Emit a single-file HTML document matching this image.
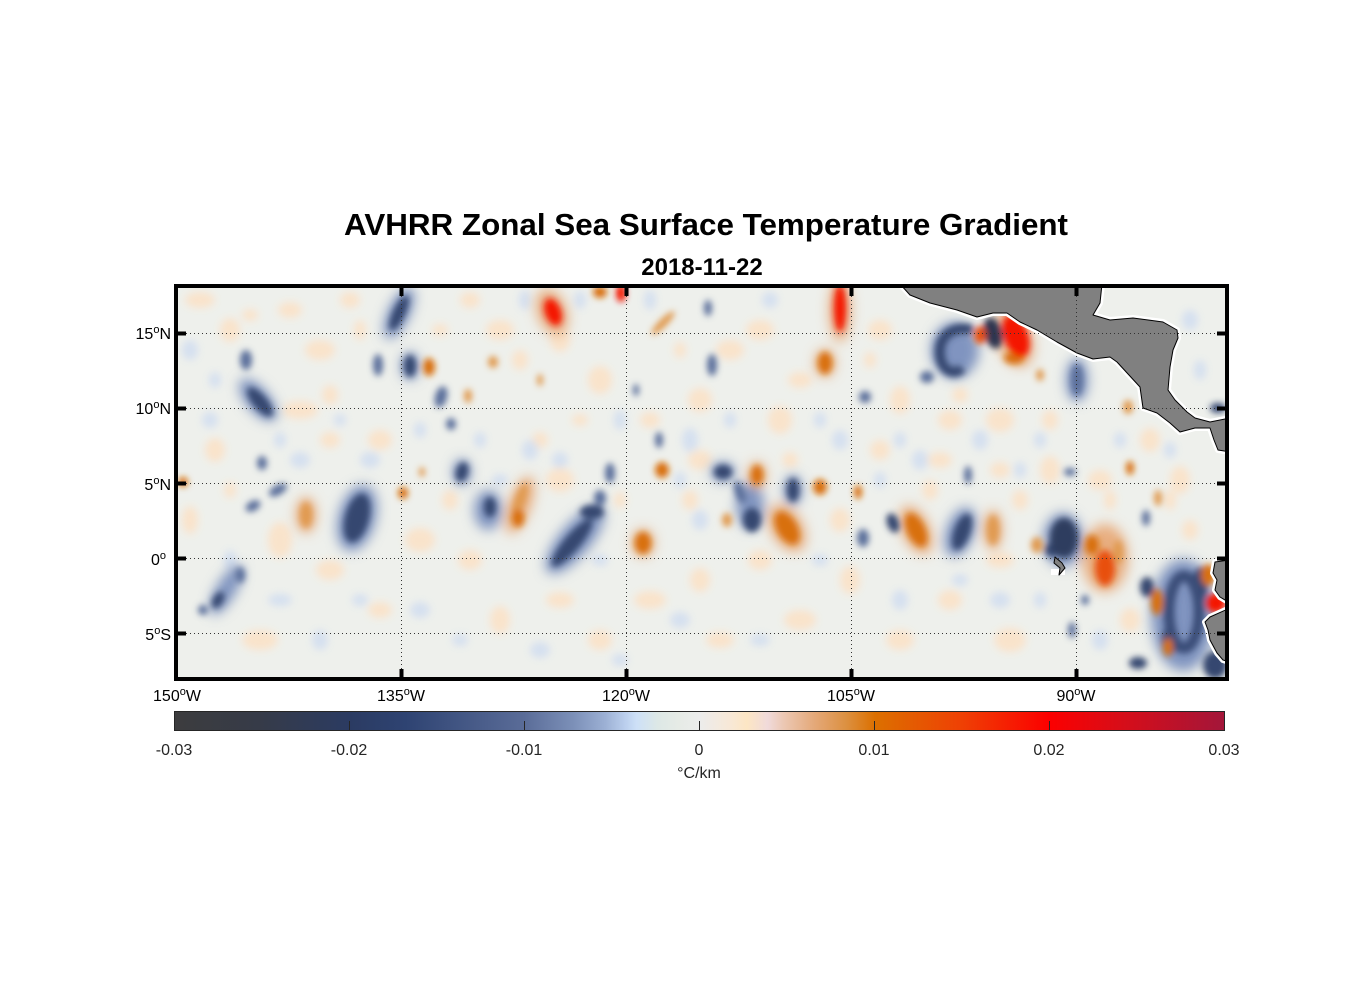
<!DOCTYPE html>
<html><head><meta charset="utf-8"><style>
html,body{margin:0;padding:0;background:#fff;}
svg{display:block;font-family:"Liberation Sans",Arial,sans-serif;}
</style></head><body>
<svg width="1356" height="1000" viewBox="0 0 1356 1000" xmlns="http://www.w3.org/2000/svg">
<defs>
<clipPath id="c"><rect x="178" y="288" width="1047" height="389"/></clipPath>
<filter id="fs" x="-50%" y="-50%" width="200%" height="200%"><feGaussianBlur stdDeviation="3.2"/></filter>
<filter id="fm" x="-50%" y="-50%" width="200%" height="200%"><feGaussianBlur stdDeviation="4"/></filter>
<filter id="fl" x="-50%" y="-50%" width="200%" height="200%"><feGaussianBlur stdDeviation="6"/></filter>
<linearGradient id="cb" x1="0" x2="1" y1="0" y2="0">
<stop offset="0" stop-color="#3c3c3e"/>
<stop offset="0.08" stop-color="#363b48"/>
<stop offset="0.167" stop-color="#2b3b62"/>
<stop offset="0.22" stop-color="#2e4372"/>
<stop offset="0.333" stop-color="#5a6c98"/>
<stop offset="0.38" stop-color="#7c90b8"/>
<stop offset="0.41" stop-color="#9cb0d4"/>
<stop offset="0.43" stop-color="#bcd0ee"/>
<stop offset="0.44" stop-color="#cde0f7"/>
<stop offset="0.46" stop-color="#dde8e6"/>
<stop offset="0.48" stop-color="#e6ebe6"/>
<stop offset="0.5" stop-color="#ececec"/>
<stop offset="0.53" stop-color="#f8e8d6"/>
<stop offset="0.545" stop-color="#fde6c4"/>
<stop offset="0.565" stop-color="#f0dada"/>
<stop offset="0.58" stop-color="#ecc8b4"/>
<stop offset="0.61" stop-color="#e4a878"/>
<stop offset="0.64" stop-color="#dc9040"/>
<stop offset="0.667" stop-color="#dc7000"/>
<stop offset="0.75" stop-color="#ef4004"/>
<stop offset="0.833" stop-color="#fc0000"/>
<stop offset="0.9" stop-color="#d80d18"/>
<stop offset="1" stop-color="#a3163a"/>
</linearGradient>
</defs>

<text x="706" y="235" font-size="31" font-weight="bold" text-anchor="middle" textLength="724" lengthAdjust="spacingAndGlyphs" fill="#000">AVHRR Zonal Sea Surface Temperature Gradient</text>
<text x="702" y="275" font-size="24" font-weight="bold" text-anchor="middle" fill="#000">2018-11-22</text>

<g clip-path="url(#c)">
<rect x="178" y="288" width="1047" height="389" fill="#eef0ec"/>

<g filter="url(#fm)" opacity="0.9">
<g fill="#fbe2c8">
<ellipse cx="200" cy="300" rx="15" ry="8"/><ellipse cx="230" cy="330" rx="10" ry="12"/><ellipse cx="290" cy="310" rx="12" ry="8"/><ellipse cx="320" cy="350" rx="15" ry="10"/><ellipse cx="350" cy="300" rx="10" ry="8"/><ellipse cx="300" cy="410" rx="18" ry="9"/><ellipse cx="330" cy="440" rx="10" ry="8"/><ellipse cx="215" cy="450" rx="10" ry="12"/><ellipse cx="190" cy="520" rx="8" ry="14"/><ellipse cx="280" cy="540" rx="12" ry="18"/><ellipse cx="330" cy="570" rx="14" ry="10"/><ellipse cx="260" cy="640" rx="18" ry="10"/><ellipse cx="380" cy="610" rx="12" ry="8"/><ellipse cx="420" cy="540" rx="15" ry="12"/><ellipse cx="470" cy="560" rx="12" ry="10"/><ellipse cx="500" cy="620" rx="10" ry="14"/><ellipse cx="560" cy="600" rx="14" ry="8"/><ellipse cx="600" cy="640" rx="12" ry="10"/><ellipse cx="650" cy="600" rx="16" ry="9"/><ellipse cx="700" cy="580" rx="10" ry="12"/><ellipse cx="720" cy="640" rx="14" ry="8"/><ellipse cx="760" cy="560" rx="12" ry="10"/><ellipse cx="800" cy="620" rx="16" ry="10"/><ellipse cx="850" cy="580" rx="10" ry="14"/><ellipse cx="900" cy="640" rx="14" ry="10"/><ellipse cx="950" cy="600" rx="12" ry="10"/><ellipse cx="1000" cy="560" rx="14" ry="8"/><ellipse cx="1010" cy="640" rx="16" ry="12"/><ellipse cx="1050" cy="470" rx="10" ry="14"/><ellipse cx="1100" cy="480" rx="12" ry="10"/><ellipse cx="1000" cy="420" rx="14" ry="12"/><ellipse cx="950" cy="420" rx="12" ry="10"/><ellipse cx="900" cy="400" rx="10" ry="14"/><ellipse cx="880" cy="330" rx="12" ry="10"/><ellipse cx="760" cy="330" rx="14" ry="10"/><ellipse cx="700" cy="400" rx="12" ry="12"/><ellipse cx="650" cy="420" rx="10" ry="8"/><ellipse cx="600" cy="380" rx="12" ry="14"/><ellipse cx="560" cy="340" rx="10" ry="12"/><ellipse cx="500" cy="330" rx="14" ry="10"/><ellipse cx="470" cy="300" rx="10" ry="8"/><ellipse cx="380" cy="440" rx="12" ry="10"/><ellipse cx="1150" cy="440" rx="10" ry="12"/><ellipse cx="1180" cy="480" rx="10" ry="14"/><ellipse cx="1190" cy="530" rx="8" ry="10"/><ellipse cx="1000" cy="470" rx="10" ry="8"/><ellipse cx="940" cy="460" rx="12" ry="8"/><ellipse cx="880" cy="450" rx="10" ry="10"/><ellipse cx="780" cy="420" rx="12" ry="14"/><ellipse cx="730" cy="350" rx="14" ry="10"/><ellipse cx="800" cy="380" rx="12" ry="8"/><ellipse cx="560" cy="480" rx="14" ry="12"/><ellipse cx="700" cy="460" rx="12" ry="10"/><ellipse cx="840" cy="520" rx="10" ry="12"/><ellipse cx="1130" cy="620" rx="10" ry="12"/>
<ellipse cx="250" cy="315" rx="8" ry="6"/><ellipse cx="330" cy="395" rx="8" ry="10"/><ellipse cx="360" cy="330" rx="6" ry="10"/><ellipse cx="440" cy="330" rx="8" ry="6"/><ellipse cx="520" cy="360" rx="8" ry="10"/><ellipse cx="580" cy="420" rx="8" ry="6"/><ellipse cx="680" cy="350" rx="6" ry="8"/><ellipse cx="690" cy="500" rx="8" ry="10"/><ellipse cx="620" cy="500" rx="6" ry="8"/><ellipse cx="450" cy="500" rx="8" ry="10"/><ellipse cx="230" cy="490" rx="6" ry="8"/><ellipse cx="870" cy="360" rx="6" ry="8"/><ellipse cx="930" cy="490" rx="8" ry="10"/><ellipse cx="1020" cy="500" rx="8" ry="10"/><ellipse cx="1110" cy="500" rx="6" ry="10"/><ellipse cx="1170" cy="500" rx="6" ry="10"/><ellipse cx="960" cy="395" rx="8" ry="8"/><ellipse cx="1050" cy="420" rx="8" ry="10"/><ellipse cx="790" cy="460" rx="8" ry="8"/><ellipse cx="540" cy="440" rx="8" ry="8"/>
</g>
<g fill="#d2def0">
<ellipse cx="190" cy="350" rx="8" ry="10"/><ellipse cx="210" cy="420" rx="8" ry="8"/><ellipse cx="300" cy="460" rx="10" ry="8"/><ellipse cx="370" cy="460" rx="10" ry="8"/><ellipse cx="420" cy="610" rx="10" ry="8"/><ellipse cx="280" cy="600" rx="12" ry="6"/><ellipse cx="530" cy="450" rx="8" ry="10"/><ellipse cx="560" cy="460" rx="8" ry="8"/><ellipse cx="620" cy="420" rx="6" ry="10"/><ellipse cx="690" cy="440" rx="8" ry="12"/><ellipse cx="700" cy="520" rx="8" ry="10"/><ellipse cx="680" cy="620" rx="10" ry="8"/><ellipse cx="760" cy="640" rx="10" ry="6"/><ellipse cx="840" cy="440" rx="8" ry="10"/><ellipse cx="880" cy="480" rx="6" ry="8"/><ellipse cx="920" cy="460" rx="8" ry="10"/><ellipse cx="980" cy="440" rx="8" ry="10"/><ellipse cx="1020" cy="470" rx="6" ry="8"/><ellipse cx="1100" cy="640" rx="8" ry="10"/><ellipse cx="1000" cy="600" rx="10" ry="8"/><ellipse cx="900" cy="600" rx="8" ry="10"/><ellipse cx="540" cy="650" rx="10" ry="8"/><ellipse cx="320" cy="640" rx="8" ry="10"/><ellipse cx="230" cy="560" rx="6" ry="10"/><ellipse cx="770" cy="300" rx="8" ry="8"/><ellipse cx="650" cy="300" rx="6" ry="10"/><ellipse cx="1190" cy="320" rx="8" ry="10"/><ellipse cx="1200" cy="370" rx="6" ry="10"/><ellipse cx="1150" cy="350" rx="6" ry="8"/><ellipse cx="525" cy="300" rx="6" ry="10"/><ellipse cx="580" cy="300" rx="6" ry="9"/>
<ellipse cx="215" cy="380" rx="6" ry="8"/><ellipse cx="280" cy="440" rx="6" ry="8"/><ellipse cx="340" cy="420" rx="6" ry="6"/><ellipse cx="480" cy="440" rx="6" ry="8"/><ellipse cx="500" cy="480" rx="8" ry="6"/><ellipse cx="420" cy="430" rx="6" ry="8"/><ellipse cx="680" cy="480" rx="6" ry="8"/><ellipse cx="730" cy="420" rx="6" ry="8"/><ellipse cx="820" cy="420" rx="6" ry="8"/><ellipse cx="900" cy="440" rx="6" ry="8"/><ellipse cx="1040" cy="440" rx="6" ry="8"/><ellipse cx="1120" cy="440" rx="6" ry="8"/><ellipse cx="1170" cy="450" rx="6" ry="8"/><ellipse cx="600" cy="560" rx="8" ry="6"/><ellipse cx="820" cy="560" rx="8" ry="6"/><ellipse cx="960" cy="580" rx="8" ry="6"/><ellipse cx="1040" cy="600" rx="6" ry="8"/><ellipse cx="360" cy="600" rx="8" ry="6"/><ellipse cx="460" cy="640" rx="8" ry="6"/><ellipse cx="620" cy="660" rx="8" ry="6"/>
</g>
</g>

<g filter="url(#fl)">
<g fill="#8094c0">
<ellipse cx="399" cy="313" rx="11" ry="28" transform="rotate(25 399 313)"/>
<ellipse cx="258" cy="400" rx="12" ry="26" transform="rotate(-40 258 400)"/>
<ellipse cx="357" cy="518" rx="19" ry="34" transform="rotate(15 357 518)"/>
<ellipse cx="575" cy="540" rx="16" ry="42" transform="rotate(40 575 540)"/>
<ellipse cx="226" cy="590" rx="10" ry="28" transform="rotate(30 226 590)"/>
<ellipse cx="488" cy="510" rx="14" ry="20"/>
<ellipse cx="750" cy="505" rx="14" ry="24"/>
<ellipse cx="960" cy="532" rx="14" ry="26" transform="rotate(20 960 532)"/>
<ellipse cx="1063" cy="540" rx="20" ry="27"/>
<ellipse cx="955" cy="350" rx="24" ry="28"/>
<ellipse cx="1183" cy="615" rx="32" ry="56"/>
<ellipse cx="1077" cy="380" rx="11" ry="22"/>
<ellipse cx="410" cy="366" rx="9" ry="14"/>
<ellipse cx="462" cy="472" rx="9" ry="13"/>
<ellipse cx="793" cy="490" rx="9" ry="15"/>
<ellipse cx="723" cy="472" rx="12" ry="10"/>
</g>
<g fill="#e8ae80">
<ellipse cx="552" cy="312" rx="15" ry="24" transform="rotate(-20 552 312)"/>
<ellipse cx="840" cy="310" rx="11" ry="32"/>
<ellipse cx="1014" cy="338" rx="18" ry="30" transform="rotate(-20 1014 338)"/>
<ellipse cx="1105" cy="558" rx="23" ry="34"/>
<ellipse cx="787" cy="528" rx="16" ry="26" transform="rotate(-30 787 528)"/>
<ellipse cx="916" cy="530" rx="14" ry="26" transform="rotate(-25 916 530)"/>
<ellipse cx="520" cy="505" rx="11" ry="30" transform="rotate(20 520 505)"/>
<ellipse cx="306" cy="515" rx="10" ry="18"/>
<ellipse cx="993" cy="530" rx="9" ry="20"/>
<ellipse cx="643" cy="543" rx="11" ry="14"/>
<ellipse cx="757" cy="475" rx="9" ry="13"/>
<ellipse cx="825" cy="363" rx="10" ry="14"/>
</g>
</g>

<g filter="url(#fs)">
<g fill="#5b6f9b">
<ellipse cx="246" cy="360" rx="6" ry="10"/>
<ellipse cx="378" cy="365" rx="5" ry="11"/>
<ellipse cx="441" cy="397" rx="6" ry="11" transform="rotate(15 441 397)"/>
<ellipse cx="451" cy="424" rx="5" ry="6"/>
<ellipse cx="262" cy="463" rx="5" ry="7"/>
<ellipse cx="253" cy="506" rx="8" ry="5" transform="rotate(-30 253 506)"/>
<ellipse cx="278" cy="490" rx="10" ry="5" transform="rotate(-30 278 490)"/>
<ellipse cx="610" cy="473" rx="5" ry="10"/>
<ellipse cx="659" cy="440" rx="4" ry="8"/>
<ellipse cx="740" cy="492" rx="5" ry="12" transform="rotate(-20 740 492)"/>
<ellipse cx="863" cy="538" rx="6" ry="9"/>
<ellipse cx="968" cy="475" rx="4" ry="9"/>
<ellipse cx="1070" cy="472" rx="6" ry="4"/>
<ellipse cx="1077" cy="380" rx="6" ry="16"/>
<ellipse cx="708" cy="308" rx="4" ry="8"/>
<ellipse cx="712" cy="365" rx="5" ry="11"/>
<ellipse cx="636" cy="390" rx="3" ry="6"/>
<ellipse cx="865" cy="397" rx="6" ry="6"/>
<ellipse cx="1146" cy="518" rx="4" ry="8"/>
<ellipse cx="1072" cy="630" rx="4" ry="8"/>
<ellipse cx="1085" cy="600" rx="4" ry="5"/>
<ellipse cx="240" cy="575" rx="5" ry="8"/>
<ellipse cx="203" cy="610" rx="5" ry="5"/>
<ellipse cx="927" cy="377" rx="7" ry="6"/>
<ellipse cx="600" cy="498" rx="6" ry="8"/>
</g>
<g fill="#34476f">
<ellipse cx="399" cy="313" rx="6" ry="19" transform="rotate(25 399 313)"/>
<ellipse cx="260" cy="402" rx="7" ry="18" transform="rotate(-40 260 402)"/>
<ellipse cx="357" cy="518" rx="12" ry="25" transform="rotate(15 357 518)"/>
<ellipse cx="572" cy="543" rx="8" ry="30" transform="rotate(40 572 543)"/>
<ellipse cx="592" cy="512" rx="12" ry="7"/>
<ellipse cx="218" cy="600" rx="5" ry="9" transform="rotate(30 218 600)"/>
<ellipse cx="410" cy="366" rx="6" ry="11"/>
<ellipse cx="462" cy="472" rx="6" ry="10" transform="rotate(15 462 472)"/>
<ellipse cx="490" cy="507" rx="6" ry="10"/>
<ellipse cx="723" cy="472" rx="9" ry="7"/>
<ellipse cx="752" cy="520" rx="9" ry="12"/>
<ellipse cx="793" cy="490" rx="6" ry="12"/>
<ellipse cx="893" cy="523" rx="6" ry="10" transform="rotate(-20 893 523)"/>
<ellipse cx="962" cy="532" rx="8" ry="19" transform="rotate(20 962 532)"/>
<ellipse cx="1052" cy="550" rx="7" ry="7"/>
<ellipse cx="1218" cy="408" rx="8" ry="5"/>
<ellipse cx="1147" cy="587" rx="7" ry="10"/>
<ellipse cx="1138" cy="663" rx="9" ry="6"/>
<ellipse cx="1215" cy="665" rx="12" ry="14"/>
<ellipse cx="1200" cy="585" rx="7" ry="18"/>
<ellipse cx="1170" cy="640" rx="8" ry="14"/>
</g>
<ellipse cx="1064" cy="538" rx="14" ry="20" fill="#2e3c5e"/>
<ellipse cx="993" cy="333" rx="9" ry="16" transform="rotate(-15 993 333)" fill="#2e3450"/>
<path d="M972,330 C955,325 938,335 940,355 C942,372 955,376 962,368" stroke="#34476f" stroke-width="10" fill="none"/>
<ellipse cx="1184" cy="612" rx="15" ry="36" fill="none" stroke="#3a4d78" stroke-width="11"/>

<g fill="#e09a50">
<ellipse cx="493" cy="362" rx="5" ry="6"/>
<ellipse cx="468" cy="396" rx="4" ry="7"/>
<ellipse cx="663" cy="323" rx="4" ry="16" transform="rotate(45 663 323)"/>
<ellipse cx="540" cy="380" rx="3" ry="6"/>
<ellipse cx="306" cy="515" rx="6" ry="13"/>
<ellipse cx="520" cy="500" rx="5" ry="18" transform="rotate(20 520 500)"/>
<ellipse cx="422" cy="472" rx="3" ry="5"/>
<ellipse cx="727" cy="520" rx="5" ry="7"/>
<ellipse cx="993" cy="530" rx="6" ry="15"/>
<ellipse cx="1037" cy="545" rx="6" ry="8"/>
<ellipse cx="1128" cy="407" rx="5" ry="7"/>
<ellipse cx="1158" cy="498" rx="4" ry="8"/>
<ellipse cx="1118" cy="552" rx="5" ry="12"/>
<ellipse cx="1040" cy="375" rx="4" ry="6"/>
</g>
<g fill="#d8700a">
<ellipse cx="600" cy="292" rx="7" ry="6"/>
<ellipse cx="429" cy="367" rx="6" ry="9"/>
<ellipse cx="825" cy="363" rx="7" ry="11"/>
<ellipse cx="403" cy="493" rx="5" ry="6"/>
<ellipse cx="518" cy="518" rx="6" ry="9"/>
<ellipse cx="662" cy="470" rx="7" ry="8"/>
<ellipse cx="643" cy="543" rx="8" ry="11"/>
<ellipse cx="757" cy="475" rx="6" ry="10"/>
<ellipse cx="787" cy="528" rx="10" ry="18" transform="rotate(-30 787 528)"/>
<ellipse cx="820" cy="487" rx="7" ry="8"/>
<ellipse cx="858" cy="492" rx="4" ry="7"/>
<ellipse cx="916" cy="530" rx="9" ry="18" transform="rotate(-25 916 530)"/>
<ellipse cx="1092" cy="545" rx="7" ry="10"/>
<ellipse cx="1157" cy="602" rx="6" ry="13"/>
<ellipse cx="1168" cy="647" rx="5" ry="9"/>
<ellipse cx="1208" cy="575" rx="7" ry="11"/>
<ellipse cx="1130" cy="468" rx="4" ry="7"/>
<ellipse cx="183" cy="482" rx="5" ry="5"/>
<ellipse cx="1014" cy="358" rx="10" ry="6"/>
</g>
<g fill="#e85010">
<ellipse cx="980" cy="335" rx="6" ry="9"/>
<ellipse cx="1105" cy="568" rx="10" ry="18"/>
</g>
<g fill="#f41400">
<ellipse cx="553" cy="312" rx="8" ry="14" transform="rotate(-20 553 312)"/>
<ellipse cx="840" cy="308" rx="6" ry="24"/>
<ellipse cx="1016" cy="336" rx="12" ry="22" transform="rotate(-20 1016 336)"/>
<ellipse cx="1216" cy="603" rx="10" ry="10"/>
<ellipse cx="621" cy="293" rx="5" ry="9"/>
</g>
</g>

<g stroke-linejoin="round">
<g fill="#fff" stroke="#fff" stroke-width="6">
<path d="M900,284 L910,295 L930,303 L957,310 L977,317 L993,313 L1007,313 L1020,322 L1037,330 L1057,342 L1077,353 L1093,359 L1110,357 L1117,362 L1140,387 L1143,408 L1157,413 L1170,423 L1180,432 L1195,428 L1210,428 L1214,440 L1218,450 L1230,452 L1230,418 L1210,422 L1195,418 L1187,412 L1175,400 L1168,390 L1170,367 L1173,350 L1178,338 L1177,330 L1163,322 L1133,318 L1110,320 L1093,315 L1100,303 L1102,284 Z"/>
<path d="M1230,560 L1215,562 L1213,573 L1217,580 L1215,590 L1220,597 L1230,603 Z"/>
<path d="M1230,608 L1210,617 L1205,622 L1208,630 L1210,640 L1217,653 L1223,660 L1230,662 Z"/>
</g>
<rect x="1051" y="569" width="14" height="6" fill="#fff"/>
<g fill="#808080" stroke="#000" stroke-width="1">
<path d="M900,284 L910,295 L930,303 L957,310 L977,317 L993,313 L1007,313 L1020,322 L1037,330 L1057,342 L1077,353 L1093,359 L1110,357 L1117,362 L1140,387 L1143,408 L1157,413 L1170,423 L1180,432 L1195,428 L1210,428 L1214,440 L1218,450 L1230,452 L1230,418 L1210,422 L1195,418 L1187,412 L1175,400 L1168,390 L1170,367 L1173,350 L1178,338 L1177,330 L1163,322 L1133,318 L1110,320 L1093,315 L1100,303 L1102,284 Z"/>
<path d="M1230,560 L1215,562 L1213,573 L1217,580 L1215,590 L1220,597 L1230,603 Z"/>
<path d="M1230,608 L1210,617 L1205,622 L1208,630 L1210,640 L1217,653 L1223,660 L1230,662 Z"/>
<path d="M1055,557 L1062,563 L1065,568 L1059,575 L1060,568 L1054,563 Z"/>
</g>
</g>

<g stroke="#333" stroke-width="1" stroke-dasharray="1,3" fill="none">
<line x1="401.5" y1="288" x2="401.5" y2="677"/>
<line x1="626.5" y1="288" x2="626.5" y2="677"/>
<line x1="851.5" y1="288" x2="851.5" y2="677"/>
<line x1="1076.5" y1="288" x2="1076.5" y2="677"/>
<line x1="178" y1="333.5" x2="1225" y2="333.5"/>
<line x1="178" y1="408.5" x2="1225" y2="408.5"/>
<line x1="178" y1="483.5" x2="1225" y2="483.5"/>
<line x1="178" y1="558.5" x2="1225" y2="558.5"/>
<line x1="178" y1="633.5" x2="1225" y2="633.5"/>
</g>
</g>

<rect x="176" y="286" width="1051" height="393" fill="none" stroke="#000" stroke-width="4"/>
<g fill="#000">
<rect x="178" y="331.5" width="8" height="4"/><rect x="178" y="406.5" width="8" height="4"/><rect x="178" y="481.5" width="8" height="4"/><rect x="178" y="556.5" width="8" height="4"/><rect x="178" y="631.5" width="8" height="4"/>
<rect x="1217" y="331.5" width="8" height="4"/><rect x="1217" y="406.5" width="8" height="4"/><rect x="1217" y="481.5" width="8" height="4"/><rect x="1217" y="556.5" width="8" height="4"/><rect x="1217" y="631.5" width="8" height="4"/>
<rect x="399.5" y="288" width="4" height="8"/><rect x="624.5" y="288" width="4" height="8"/><rect x="849.5" y="288" width="4" height="8"/><rect x="1074.5" y="288" width="4" height="8"/>
<rect x="399.5" y="669" width="4" height="8"/><rect x="624.5" y="669" width="4" height="8"/><rect x="849.5" y="669" width="4" height="8"/><rect x="1074.5" y="669" width="4" height="8"/>
</g>

<g font-size="16" fill="#000" text-anchor="end">
<text x="171" y="339">15<tspan dy="-6" font-size="11">o</tspan><tspan dy="6">N</tspan></text>
<text x="171" y="414">10<tspan dy="-6" font-size="11">o</tspan><tspan dy="6">N</tspan></text>
<text x="171" y="490">5<tspan dy="-6" font-size="11">o</tspan><tspan dy="6">N</tspan></text>
<text x="166" y="565">0<tspan dy="-6" font-size="11">o</tspan></text>
<text x="171" y="640">5<tspan dy="-6" font-size="11">o</tspan><tspan dy="6">S</tspan></text>
</g>
<g font-size="16" fill="#000" text-anchor="middle">
<text x="177" y="701">150<tspan dy="-6" font-size="11">o</tspan><tspan dy="6">W</tspan></text>
<text x="401" y="701">135<tspan dy="-6" font-size="11">o</tspan><tspan dy="6">W</tspan></text>
<text x="626" y="701">120<tspan dy="-6" font-size="11">o</tspan><tspan dy="6">W</tspan></text>
<text x="851" y="701">105<tspan dy="-6" font-size="11">o</tspan><tspan dy="6">W</tspan></text>
<text x="1076" y="701">90<tspan dy="-6" font-size="11">o</tspan><tspan dy="6">W</tspan></text>
</g>

<rect x="174.5" y="711.5" width="1050" height="19" fill="url(#cb)" stroke="#262626" stroke-width="1"/>
<g stroke="#262626" stroke-width="1">
<line x1="349.5" y1="721" x2="349.5" y2="730"/>
<line x1="524.5" y1="721" x2="524.5" y2="730"/>
<line x1="699.5" y1="721" x2="699.5" y2="730"/>
<line x1="874.5" y1="721" x2="874.5" y2="730"/>
<line x1="1049.5" y1="721" x2="1049.5" y2="730"/>
</g>
<g font-size="16" fill="#262626" text-anchor="middle">
<text x="174" y="755">-0.03</text>
<text x="349" y="755">-0.02</text>
<text x="524" y="755">-0.01</text>
<text x="699" y="755">0</text>
<text x="874" y="755">0.01</text>
<text x="1049" y="755">0.02</text>
<text x="1224" y="755">0.03</text>
<text x="699" y="778">°C/km</text>
</g>
</svg>
</body></html>
